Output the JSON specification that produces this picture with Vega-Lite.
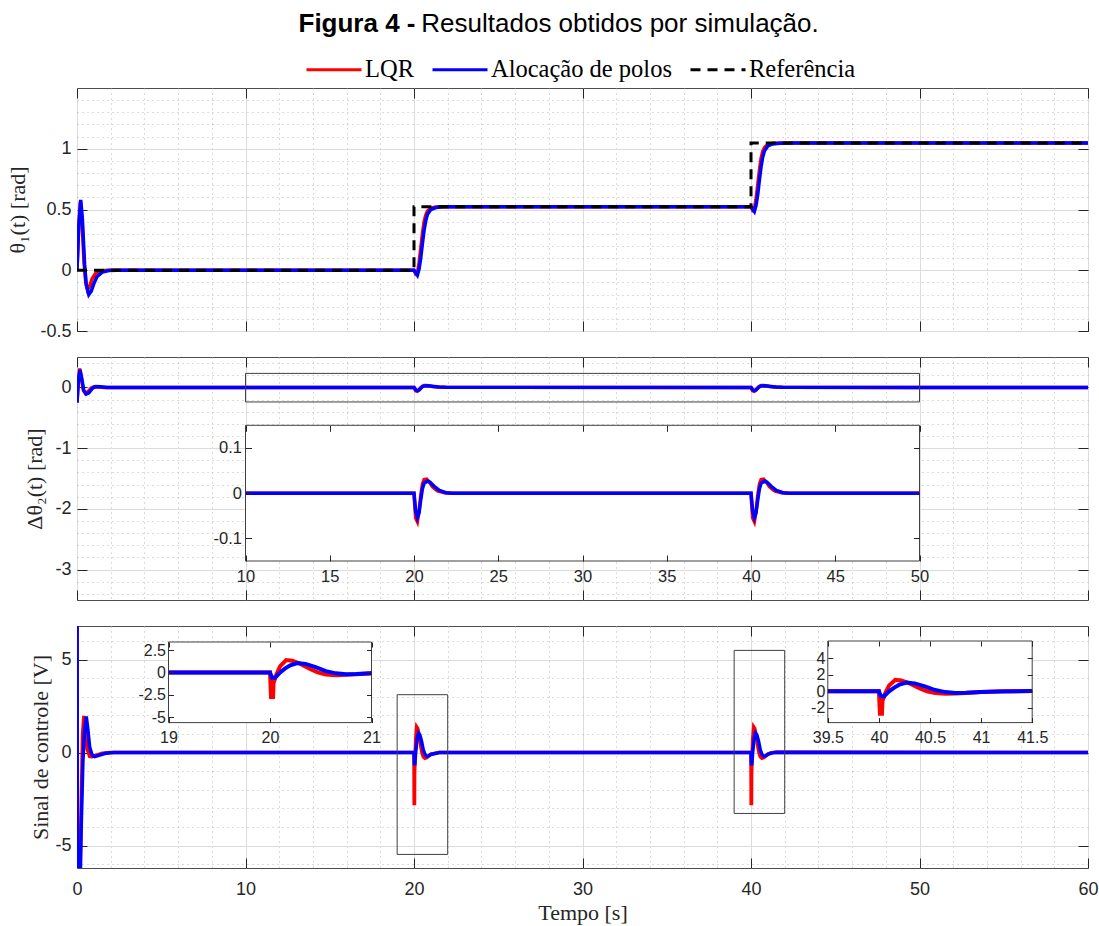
{
 "$schema": "https://vega.github.io/schema/vega-lite/v6.json",
 "background": "white",
 "padding": {"left": 6, "top": 10, "right": 5, "bottom": 5},
 "title": {"text": "Figura 4 -", "subtitle": "\u200b\u00a0\u00a0\u00a0\u00a0\u00a0\u00a0\u00a0\u00a0\u00a0\u00a0\u00a0\u00a0\u00a0\u00a0\u00a0\u00a0\u00a0Resultados obtidos por simulação.", "anchor": "middle", "align": "left", "dx": -254, "font": "Liberation Sans", "fontSize": 26, "fontWeight": "bold", "color": "#000000", "subtitleFont": "Liberation Sans", "subtitleFontSize": 26, "subtitleFontWeight": "normal", "subtitleColor": "#000000", "subtitlePadding": -26},
 "datasets": {
  "th1": [
   {"t":0,"v":0,"s":"LQR"},{"t":0.1,"v":0.36,"s":"LQR"},{"t":0.2,"v":0.56,"s":"LQR"},{"t":0.3,"v":0.4,"s":"LQR"},{"t":0.42,"v":0.06,"s":"LQR"},{"t":0.52,"v":-0.1,"s":"LQR"},{"t":0.62,"v":-0.16,"s":"LQR"},{"t":0.75,"v":-0.13,"s":"LQR"},{"t":0.9,"v":-0.07,"s":"LQR"},{"t":1.1,"v":-0.025,"s":"LQR"},{"t":1.4,"v":-0.005,"s":"LQR"},{"t":1.8,"v":0,"s":"LQR"},{"t":20,"v":0,"s":"LQR"},{"t":20.1,"v":-0.03,"s":"LQR"},{"t":20.2,"v":-0.02,"s":"LQR"},{"t":20.3,"v":0.06,"s":"LQR"},{"t":20.4,"v":0.18,"s":"LQR"},{"t":20.5,"v":0.3,"s":"LQR"},{"t":20.6,"v":0.4,"s":"LQR"},{"t":20.7,"v":0.455,"s":"LQR"},{"t":20.8,"v":0.487,"s":"LQR"},{"t":21,"v":0.512,"s":"LQR"},{"t":21.3,"v":0.521,"s":"LQR"},{"t":22,"v":0.5236,"s":"LQR"},{"t":40,"v":0.5236,"s":"LQR"},{"t":40.1,"v":0.4936,"s":"LQR"},{"t":40.2,"v":0.5036,"s":"LQR"},{"t":40.3,"v":0.5836,"s":"LQR"},{"t":40.4,"v":0.7036,"s":"LQR"},{"t":40.5,"v":0.8236,"s":"LQR"},{"t":40.6,"v":0.9236,"s":"LQR"},{"t":40.7,"v":0.9786,"s":"LQR"},{"t":40.8,"v":1.0106,"s":"LQR"},{"t":41,"v":1.0356,"s":"LQR"},{"t":41.3,"v":1.0446,"s":"LQR"},{"t":42,"v":1.0472,"s":"LQR"},{"t":60,"v":1.0472,"s":"LQR"},
   {"t":0,"v":0,"s":"Alocação de polos"},{"t":0.1,"v":0.35,"s":"Alocação de polos"},{"t":0.22,"v":0.58,"s":"Alocação de polos"},{"t":0.32,"v":0.42,"s":"Alocação de polos"},{"t":0.45,"v":0.05,"s":"Alocação de polos"},{"t":0.55,"v":-0.12,"s":"Alocação de polos"},{"t":0.7,"v":-0.2,"s":"Alocação de polos"},{"t":0.85,"v":-0.17,"s":"Alocação de polos"},{"t":1,"v":-0.11,"s":"Alocação de polos"},{"t":1.2,"v":-0.05,"s":"Alocação de polos"},{"t":1.5,"v":-0.015,"s":"Alocação de polos"},{"t":1.9,"v":-0.002,"s":"Alocação de polos"},{"t":2.4,"v":0,"s":"Alocação de polos"},{"t":20,"v":0,"s":"Alocação de polos"},{"t":20.1,"v":-0.02,"s":"Alocação de polos"},{"t":20.2,"v":-0.04,"s":"Alocação de polos"},{"t":20.3,"v":0.01,"s":"Alocação de polos"},{"t":20.4,"v":0.1,"s":"Alocação de polos"},{"t":20.5,"v":0.22,"s":"Alocação de polos"},{"t":20.6,"v":0.33,"s":"Alocação de polos"},{"t":20.7,"v":0.41,"s":"Alocação de polos"},{"t":20.8,"v":0.46,"s":"Alocação de polos"},{"t":21,"v":0.5,"s":"Alocação de polos"},{"t":21.3,"v":0.516,"s":"Alocação de polos"},{"t":21.7,"v":0.522,"s":"Alocação de polos"},{"t":22.5,"v":0.5236,"s":"Alocação de polos"},{"t":40,"v":0.5236,"s":"Alocação de polos"},{"t":40.1,"v":0.5036,"s":"Alocação de polos"},{"t":40.2,"v":0.4836,"s":"Alocação de polos"},{"t":40.3,"v":0.5336,"s":"Alocação de polos"},{"t":40.4,"v":0.6236,"s":"Alocação de polos"},{"t":40.5,"v":0.7436,"s":"Alocação de polos"},{"t":40.6,"v":0.8536,"s":"Alocação de polos"},{"t":40.7,"v":0.9336,"s":"Alocação de polos"},{"t":40.8,"v":0.9836,"s":"Alocação de polos"},{"t":41,"v":1.0236,"s":"Alocação de polos"},{"t":41.3,"v":1.0396,"s":"Alocação de polos"},{"t":41.7,"v":1.0456,"s":"Alocação de polos"},{"t":42.5,"v":1.0472,"s":"Alocação de polos"},{"t":60,"v":1.0472,"s":"Alocação de polos"}
  ],
  "ref": [
   {"i":1,"t":0,"v":0,"s":"Referência"},{"i":2,"t":20,"v":0,"s":"Referência"},{"i":3,"t":20,"v":0.5236,"s":"Referência"},{"i":4,"t":40,"v":0.5236,"s":"Referência"},{"i":5,"t":40,"v":1.0472,"s":"Referência"},{"i":6,"t":60,"v":1.0472,"s":"Referência"}
  ],
  "th2": [
   {"t":0,"v":-0.25,"s":"LQR"},{"t":0.08,"v":0.12,"s":"LQR"},{"t":0.16,"v":0.31,"s":"LQR"},{"t":0.26,"v":0.15,"s":"LQR"},{"t":0.38,"v":-0.05,"s":"LQR"},{"t":0.5,"v":-0.1,"s":"LQR"},{"t":0.65,"v":-0.07,"s":"LQR"},{"t":0.85,"v":-0.01,"s":"LQR"},{"t":1,"v":0.01,"s":"LQR"},{"t":1.3,"v":0.005,"s":"LQR"},{"t":1.6,"v":0,"s":"LQR"},{"t":10,"v":0,"s":"LQR"},{"t":20,"v":0,"s":"LQR"},{"t":20.05,"v":-0.03,"s":"LQR"},{"t":20.1,"v":-0.055,"s":"LQR"},{"t":20.2,"v":-0.063,"s":"LQR"},{"t":20.3,"v":-0.04,"s":"LQR"},{"t":20.4,"v":-0.005,"s":"LQR"},{"t":20.5,"v":0.02,"s":"LQR"},{"t":20.6,"v":0.03,"s":"LQR"},{"t":20.75,"v":0.031,"s":"LQR"},{"t":20.9,"v":0.025,"s":"LQR"},{"t":21.1,"v":0.014,"s":"LQR"},{"t":21.4,"v":0.005,"s":"LQR"},{"t":21.8,"v":0.001,"s":"LQR"},{"t":22.2,"v":0,"s":"LQR"},{"t":40,"v":0,"s":"LQR"},{"t":40.05,"v":-0.03,"s":"LQR"},{"t":40.1,"v":-0.055,"s":"LQR"},{"t":40.2,"v":-0.063,"s":"LQR"},{"t":40.3,"v":-0.04,"s":"LQR"},{"t":40.4,"v":-0.005,"s":"LQR"},{"t":40.5,"v":0.02,"s":"LQR"},{"t":40.6,"v":0.03,"s":"LQR"},{"t":40.75,"v":0.031,"s":"LQR"},{"t":40.9,"v":0.025,"s":"LQR"},{"t":41.1,"v":0.014,"s":"LQR"},{"t":41.4,"v":0.005,"s":"LQR"},{"t":41.8,"v":0.001,"s":"LQR"},{"t":42.2,"v":0,"s":"LQR"},{"t":50,"v":0,"s":"LQR"},{"t":60,"v":0,"s":"LQR"},
   {"t":0,"v":-0.25,"s":"Alocação de polos"},{"t":0.08,"v":0.1,"s":"Alocação de polos"},{"t":0.18,"v":0.29,"s":"Alocação de polos"},{"t":0.28,"v":0.15,"s":"Alocação de polos"},{"t":0.4,"v":-0.05,"s":"Alocação de polos"},{"t":0.55,"v":-0.11,"s":"Alocação de polos"},{"t":0.7,"v":-0.09,"s":"Alocação de polos"},{"t":0.9,"v":-0.02,"s":"Alocação de polos"},{"t":1.1,"v":0.015,"s":"Alocação de polos"},{"t":1.4,"v":0.01,"s":"Alocação de polos"},{"t":1.8,"v":0,"s":"Alocação de polos"},{"t":10,"v":0,"s":"Alocação de polos"},{"t":20,"v":0,"s":"Alocação de polos"},{"t":20.05,"v":-0.02,"s":"Alocação de polos"},{"t":20.1,"v":-0.04,"s":"Alocação de polos"},{"t":20.2,"v":-0.054,"s":"Alocação de polos"},{"t":20.3,"v":-0.043,"s":"Alocação de polos"},{"t":20.4,"v":-0.015,"s":"Alocação de polos"},{"t":20.5,"v":0.01,"s":"Alocação de polos"},{"t":20.6,"v":0.022,"s":"Alocação de polos"},{"t":20.8,"v":0.027,"s":"Alocação de polos"},{"t":20.95,"v":0.024,"s":"Alocação de polos"},{"t":21.2,"v":0.015,"s":"Alocação de polos"},{"t":21.5,"v":0.006,"s":"Alocação de polos"},{"t":21.9,"v":0.001,"s":"Alocação de polos"},{"t":22.3,"v":0,"s":"Alocação de polos"},{"t":40,"v":0,"s":"Alocação de polos"},{"t":40.05,"v":-0.02,"s":"Alocação de polos"},{"t":40.1,"v":-0.04,"s":"Alocação de polos"},{"t":40.2,"v":-0.054,"s":"Alocação de polos"},{"t":40.3,"v":-0.043,"s":"Alocação de polos"},{"t":40.4,"v":-0.015,"s":"Alocação de polos"},{"t":40.5,"v":0.01,"s":"Alocação de polos"},{"t":40.6,"v":0.022,"s":"Alocação de polos"},{"t":40.8,"v":0.027,"s":"Alocação de polos"},{"t":40.95,"v":0.024,"s":"Alocação de polos"},{"t":41.2,"v":0.015,"s":"Alocação de polos"},{"t":41.5,"v":0.006,"s":"Alocação de polos"},{"t":41.9,"v":0.001,"s":"Alocação de polos"},{"t":42.3,"v":0,"s":"Alocação de polos"},{"t":50,"v":0,"s":"Alocação de polos"},{"t":60,"v":0,"s":"Alocação de polos"}
  ],
  "u": [
   {"t":0,"v":15,"s":"LQR"},{"t":0.03,"v":-10,"s":"LQR"},{"t":0.15,"v":-8,"s":"LQR"},{"t":0.25,"v":-3,"s":"LQR"},{"t":0.33,"v":1,"s":"LQR"},{"t":0.41,"v":1.97,"s":"LQR"},{"t":0.5,"v":1.2,"s":"LQR"},{"t":0.6,"v":0.2,"s":"LQR"},{"t":0.75,"v":-0.2,"s":"LQR"},{"t":0.9,"v":-0.22,"s":"LQR"},{"t":1.1,"v":-0.15,"s":"LQR"},{"t":1.5,"v":-0.04,"s":"LQR"},{"t":2,"v":0,"s":"LQR"},{"t":19,"v":0,"s":"LQR"},{"t":20,"v":0,"s":"LQR"},{"t":20.01,"v":-2.73,"s":"LQR"},{"t":20.03,"v":-2.73,"s":"LQR"},{"t":20.035,"v":-1.2,"s":"LQR"},{"t":20.06,"v":-0.3,"s":"LQR"},{"t":20.1,"v":0.7,"s":"LQR"},{"t":20.16,"v":1.38,"s":"LQR"},{"t":20.22,"v":1.3,"s":"LQR"},{"t":20.3,"v":0.95,"s":"LQR"},{"t":20.4,"v":0.35,"s":"LQR"},{"t":20.47,"v":0,"s":"LQR"},{"t":20.55,"v":-0.22,"s":"LQR"},{"t":20.65,"v":-0.3,"s":"LQR"},{"t":20.75,"v":-0.27,"s":"LQR"},{"t":20.85,"v":-0.2,"s":"LQR"},{"t":21,"v":-0.08,"s":"LQR"},{"t":21.5,"v":0,"s":"LQR"},{"t":39.5,"v":0,"s":"LQR"},{"t":40,"v":0,"s":"LQR"},{"t":40.01,"v":-2.73,"s":"LQR"},{"t":40.03,"v":-2.73,"s":"LQR"},{"t":40.035,"v":-1.2,"s":"LQR"},{"t":40.06,"v":-0.3,"s":"LQR"},{"t":40.1,"v":0.7,"s":"LQR"},{"t":40.16,"v":1.38,"s":"LQR"},{"t":40.22,"v":1.3,"s":"LQR"},{"t":40.3,"v":0.95,"s":"LQR"},{"t":40.4,"v":0.35,"s":"LQR"},{"t":40.47,"v":0,"s":"LQR"},{"t":40.55,"v":-0.22,"s":"LQR"},{"t":40.65,"v":-0.3,"s":"LQR"},{"t":40.75,"v":-0.27,"s":"LQR"},{"t":40.85,"v":-0.2,"s":"LQR"},{"t":41,"v":-0.08,"s":"LQR"},{"t":41.2,"v":-0.01,"s":"LQR"},{"t":41.5,"v":0.02,"s":"LQR"},{"t":60,"v":0,"s":"LQR"},
   {"t":0,"v":20,"s":"Alocação de polos"},{"t":0.02,"v":-15,"s":"Alocação de polos"},{"t":0.15,"v":-9,"s":"Alocação de polos"},{"t":0.25,"v":-4,"s":"Alocação de polos"},{"t":0.35,"v":-0.5,"s":"Alocação de polos"},{"t":0.45,"v":1.2,"s":"Alocação de polos"},{"t":0.55,"v":1.94,"s":"Alocação de polos"},{"t":0.65,"v":1.2,"s":"Alocação de polos"},{"t":0.75,"v":0.3,"s":"Alocação de polos"},{"t":0.9,"v":-0.15,"s":"Alocação de polos"},{"t":1.05,"v":-0.22,"s":"Alocação de polos"},{"t":1.3,"v":-0.15,"s":"Alocação de polos"},{"t":1.7,"v":-0.04,"s":"Alocação de polos"},{"t":2.2,"v":0,"s":"Alocação de polos"},{"t":19,"v":0,"s":"Alocação de polos"},{"t":20,"v":0,"s":"Alocação de polos"},{"t":20.02,"v":-0.6,"s":"Alocação de polos"},{"t":20.05,"v":-0.6,"s":"Alocação de polos"},{"t":20.1,"v":0,"s":"Alocação de polos"},{"t":20.15,"v":0.45,"s":"Alocação de polos"},{"t":20.2,"v":0.8,"s":"Alocação de polos"},{"t":20.27,"v":1.05,"s":"Alocação de polos"},{"t":20.35,"v":0.95,"s":"Alocação de polos"},{"t":20.45,"v":0.6,"s":"Alocação de polos"},{"t":20.55,"v":0.15,"s":"Alocação de polos"},{"t":20.65,"v":-0.1,"s":"Alocação de polos"},{"t":20.75,"v":-0.2,"s":"Alocação de polos"},{"t":20.85,"v":-0.18,"s":"Alocação de polos"},{"t":21,"v":-0.1,"s":"Alocação de polos"},{"t":21.5,"v":0,"s":"Alocação de polos"},{"t":39.5,"v":0,"s":"Alocação de polos"},{"t":40,"v":0,"s":"Alocação de polos"},{"t":40.02,"v":-0.6,"s":"Alocação de polos"},{"t":40.05,"v":-0.6,"s":"Alocação de polos"},{"t":40.1,"v":0,"s":"Alocação de polos"},{"t":40.15,"v":0.45,"s":"Alocação de polos"},{"t":40.2,"v":0.8,"s":"Alocação de polos"},{"t":40.27,"v":1.05,"s":"Alocação de polos"},{"t":40.35,"v":0.95,"s":"Alocação de polos"},{"t":40.45,"v":0.6,"s":"Alocação de polos"},{"t":40.55,"v":0.15,"s":"Alocação de polos"},{"t":40.65,"v":-0.1,"s":"Alocação de polos"},{"t":40.75,"v":-0.2,"s":"Alocação de polos"},{"t":40.85,"v":-0.18,"s":"Alocação de polos"},{"t":41,"v":-0.1,"s":"Alocação de polos"},{"t":41.2,"v":-0.03,"s":"Alocação de polos"},{"t":41.5,"v":0.02,"s":"Alocação de polos"},{"t":60,"v":0,"s":"Alocação de polos"}
  ],
  "box2": [{"x1":10,"x2":50,"y1":-0.24,"y2":0.23}],
  "box3": [{"x1":19,"x2":22,"y1":-5.47,"y2":3.11},{"x1":39,"x2":42,"y1":-3.27,"y2":5.49}]
 },
 "spacing": 26,
 "bounds": "flush",
 "vconcat": [
  {
   "width": 1011, "height": 243,
   "layer": [
    {"data": {"name": "th1"}, "transform": [{"filter": "datum.s === 'LQR'"}],
     "mark": {"type": "line", "strokeWidth": 3.5, "clip": true},
     "encoding": {
      "x": {"field": "t", "type": "quantitative", "scale": {"domain": [0, 60], "nice": false, "zero": false},
            "axis": {"orient": "bottom", "values": [0,2,4,6,8,10,12,14,16,18,20,22,24,26,28,30,32,34,36,38,40,42,44,46,48,50,52,54,56,58,60], "grid": true,
                     "gridColor": {"condition": {"test": "datum.value % 10 === 0", "value": "#dcdcdc"}, "value": "#b8b8b8"},
                     "gridDash": {"condition": {"test": "datum.value % 10 === 0", "value": []}, "value": [1, 4]},
                     "tickSize": -10, "tickOpacity": {"condition": {"test": "datum.value % 10 === 0", "value": 1}, "value": 0},
                     "labels": false, "title": null, "domain": false}},
      "y": {"field": "v", "type": "quantitative", "scale": {"domain": [-0.5, 1.5], "nice": false, "zero": false},
            "axis": {"orient": "left", "values": [-0.5,-0.4,-0.3,-0.2,-0.1,0,0.1,0.2,0.3,0.4,0.5,0.6,0.7,0.8,0.9,1,1.1,1.2,1.3,1.4], "grid": true,
                     "gridColor": {"condition": {"test": "abs(round(datum.value*10)) % 5 === 0", "value": "#dcdcdc"}, "value": "#b8b8b8"},
                     "gridDash": {"condition": {"test": "abs(round(datum.value*10)) % 5 === 0", "value": []}, "value": [1, 4]},
                     "tickSize": -10, "tickOpacity": {"condition": {"test": "abs(round(datum.value*10)) % 5 === 0", "value": 1}, "value": 0},
                     "labelExpr": "abs(round(datum.value*10)) % 5 === 0 ? toString(datum.value) : ''", "labelPadding": 16, "labelOverlap": false, "labelFlush": false,
                     "title": "θ₁(t) [rad]", "titlePadding": 10, "domain": false}},
      "color": {"field": "s", "type": "nominal", "scale": {"domain": ["LQR", "Alocação de polos", "Referência"], "range": ["#ff0000", "#0000ff", "#000000"]},
                "legend": {"title": null, "orient": "none", "legendX": 228, "legendY": -47.5, "direction": "horizontal"}}
     }},
    {"data": {"name": "th1"}, "transform": [{"filter": "datum.s !== 'LQR'"}],
     "mark": {"type": "line", "strokeWidth": 3.5, "clip": true},
     "encoding": {
      "x": {"field": "t", "type": "quantitative", "axis": {"orient": "top", "values": [0,10,20,30,40,50,60], "grid": false, "tickSize": -10, "labels": false, "title": null, "domain": false}},
      "y": {"field": "v", "type": "quantitative", "axis": {"orient": "right", "values": [-0.5,0,0.5,1], "grid": false, "tickSize": -10, "labels": false, "title": null, "domain": false}},
      "color": {"field": "s", "type": "nominal"}
     }},
    {"data": {"name": "ref"},
     "mark": {"type": "line", "strokeWidth": 3, "clip": true},
     "encoding": {
      "x": {"field": "t", "type": "quantitative", "axis": null},
      "y": {"field": "v", "type": "quantitative", "axis": null},
      "order": {"field": "i", "type": "quantitative"},
      "color": {"field": "s", "type": "nominal"},
      "strokeDash": {"field": "s", "type": "nominal", "scale": {"domain": ["LQR", "Alocação de polos", "Referência"], "range": [[1, 0], [1, 0], [10, 7]]},
                     "legend": {"title": null, "orient": "none", "legendX": 228, "legendY": -47.5, "direction": "horizontal"}}
     }}
   ],
   "resolve": {"axis": {"x": "independent", "y": "independent"}}
  },
  {
   "width": 1011, "height": 243,
   "layer": [
    {"layer": [
      {"data": {"name": "th2"}, "transform": [{"filter": "datum.s === 'LQR'"}],
       "mark": {"type": "line", "strokeWidth": 3.5, "clip": true},
       "encoding": {
        "x": {"field": "t", "type": "quantitative", "scale": {"domain": [0, 60], "nice": false, "zero": false},
              "axis": {"orient": "bottom", "values": [0,2,4,6,8,10,12,14,16,18,20,22,24,26,28,30,32,34,36,38,40,42,44,46,48,50,52,54,56,58,60], "grid": true,
                       "gridColor": {"condition": {"test": "datum.value % 10 === 0", "value": "#dcdcdc"}, "value": "#b8b8b8"},
                       "gridDash": {"condition": {"test": "datum.value % 10 === 0", "value": []}, "value": [1, 4]},
                       "tickSize": -10, "tickOpacity": {"condition": {"test": "datum.value % 10 === 0", "value": 1}, "value": 0},
                       "labels": false, "title": null, "domain": false}},
        "y": {"field": "v", "type": "quantitative", "scale": {"domain": [-3.5, 0.5], "nice": false, "zero": false},
              "axis": {"orient": "left", "values": [-3.4,-3.2,-3,-2.8,-2.6,-2.4,-2.2,-2,-1.8,-1.6,-1.4,-1.2,-1,-0.8,-0.6,-0.4,-0.2,0,0.2,0.4], "grid": true,
                       "gridColor": {"condition": {"test": "abs(round(datum.value*10)) % 10 === 0", "value": "#dcdcdc"}, "value": "#b8b8b8"},
                       "gridDash": {"condition": {"test": "abs(round(datum.value*10)) % 10 === 0", "value": []}, "value": [1, 4]},
                       "tickSize": -10, "tickOpacity": {"condition": {"test": "abs(round(datum.value*10)) % 10 === 0", "value": 1}, "value": 0},
                       "labelExpr": "abs(round(datum.value*10)) % 10 === 0 ? toString(datum.value) : ''", "labelPadding": 16, "labelOverlap": false, "labelFlush": false,
                       "title": "Δθ₂(t) [rad]", "titlePadding": 8, "domain": false}},
        "color": {"field": "s", "type": "nominal"}
       }},
      {"data": {"name": "th2"}, "transform": [{"filter": "datum.s !== 'LQR'"}],
       "mark": {"type": "line", "strokeWidth": 3.5, "clip": true},
       "encoding": {
        "x": {"field": "t", "type": "quantitative", "axis": {"orient": "top", "values": [0,10,20,30,40,50,60], "grid": false, "tickSize": -10, "labels": false, "title": null, "domain": false}},
        "y": {"field": "v", "type": "quantitative", "axis": {"orient": "right", "values": [-3,-2,-1,0], "grid": false, "tickSize": -10, "labels": false, "title": null, "domain": false}},
        "color": {"field": "s", "type": "nominal"}
       }},
      {"data": {"name": "box2"},
       "mark": {"type": "rect", "filled": false, "stroke": "#404040", "strokeWidth": 1},
       "encoding": {
        "x": {"field": "x1", "type": "quantitative", "axis": null}, "x2": {"field": "x2"},
        "y": {"field": "y1", "type": "quantitative", "axis": null}, "y2": {"field": "y2"}
       }}
     ],
     "resolve": {"axis": {"x": "independent", "y": "independent"}}},
    {"layer": [
      {"data": {"values": [{}]},
       "mark": {"type": "rect", "fill": "white", "stroke": "#404040", "strokeWidth": 1},
       "encoding": {
        "x": {"datum": 10, "type": "quantitative", "scale": {"domain": [10, 50], "range": [168.5, 842.5], "nice": false, "zero": false},
              "axis": {"orient": "bottom", "offset": -39, "values": [10,15,20,25,30,35,40,45,50], "tickSize": -6, "labelPadding": 13, "labelFontSize": 16.5, "labelExpr": "toString(datum.value)", "labelFlush": false, "labelOverlap": false, "grid": false, "domain": false, "title": null, "zindex": 1}},
        "x2": {"datum": 50},
        "y": {"datum": -0.15, "type": "quantitative", "scale": {"domain": [-0.15, 0.15], "range": [204, 68.3], "nice": false, "zero": false},
              "axis": {"orient": "left", "offset": -168.5, "values": [-0.1, 0, 0.1], "tickSize": -6, "labelPadding": 10, "labelFontSize": 16.5, "labelExpr": "toString(datum.value)", "labelFlush": false, "labelOverlap": false, "grid": false, "domain": false, "title": null, "zindex": 1}},
        "y2": {"datum": 0.15}
       }},
      {"data": {"name": "th2"}, "transform": [{"filter": "datum.s === 'LQR' && datum.t >= 10 && datum.t <= 50"}],
       "mark": {"type": "line", "strokeWidth": 3.5},
       "encoding": {
        "x": {"field": "t", "type": "quantitative", "axis": null},
        "y": {"field": "v", "type": "quantitative", "axis": null},
        "color": {"field": "s", "type": "nominal"}
       }},
      {"data": {"name": "th2"}, "transform": [{"filter": "datum.s !== 'LQR' && datum.t >= 10 && datum.t <= 50"}],
       "mark": {"type": "line", "strokeWidth": 3.5},
       "encoding": {
        "x": {"field": "t", "type": "quantitative", "axis": {"orient": "top", "offset": -68.3, "values": [10,15,20,25,30,35,40,45,50], "tickSize": -6, "labels": false, "grid": false, "domain": false, "title": null, "zindex": 1}},
        "y": {"field": "v", "type": "quantitative", "axis": {"orient": "right", "offset": -168.5, "values": [-0.1, 0, 0.1], "tickSize": -6, "labels": false, "grid": false, "domain": false, "title": null, "zindex": 1}},
        "color": {"field": "s", "type": "nominal"}
       }}
     ],
     "resolve": {"axis": {"x": "independent", "y": "independent"}}}
   ],
   "resolve": {"scale": {"x": "independent", "y": "independent"}, "axis": {"x": "independent", "y": "independent"}}
  },
  {
   "width": 1011, "height": 242,
   "layer": [
    {"layer": [
      {"data": {"name": "u"}, "transform": [{"filter": "datum.s === 'LQR'"}],
       "mark": {"type": "line", "strokeWidth": 3.5, "clip": true},
       "encoding": {
        "x": {"field": "t", "type": "quantitative", "scale": {"domain": [0, 60], "nice": false, "zero": false},
              "axis": {"orient": "bottom", "values": [0,2,4,6,8,10,12,14,16,18,20,22,24,26,28,30,32,34,36,38,40,42,44,46,48,50,52,54,56,58,60], "grid": true,
                       "gridColor": {"condition": {"test": "datum.value % 10 === 0", "value": "#dcdcdc"}, "value": "#b8b8b8"},
                       "gridDash": {"condition": {"test": "datum.value % 10 === 0", "value": []}, "value": [1, 4]},
                       "tickSize": -10, "tickOpacity": {"condition": {"test": "datum.value % 10 === 0", "value": 1}, "value": 0},
                       "labelExpr": "datum.value % 10 === 0 ? toString(datum.value) : ''", "labelPadding": 22, "labelFlush": false, "labelOverlap": false,
                       "title": "Tempo [s]", "titlePadding": 4, "domain": false}},
        "y": {"field": "v", "type": "quantitative", "scale": {"domain": [-6.2, 6.8], "nice": false, "zero": false},
              "axis": {"orient": "left", "values": [-6,-5,-4,-3,-2,-1,0,1,2,3,4,5,6], "grid": true,
                       "gridColor": {"condition": {"test": "abs(datum.value) % 5 === 0", "value": "#dcdcdc"}, "value": "#b8b8b8"},
                       "gridDash": {"condition": {"test": "abs(datum.value) % 5 === 0", "value": []}, "value": [1, 4]},
                       "tickSize": -10, "tickOpacity": {"condition": {"test": "abs(datum.value) % 5 === 0", "value": 1}, "value": 0},
                       "labelExpr": "abs(datum.value) % 5 === 0 ? toString(datum.value) : ''", "labelPadding": 16, "labelOverlap": false, "labelFlush": false,
                       "title": "Sinal de controle [V]", "titlePadding": 2, "domain": false}},
        "color": {"field": "s", "type": "nominal"}
       }},
      {"data": {"name": "u"}, "transform": [{"filter": "datum.s !== 'LQR'"}],
       "mark": {"type": "line", "strokeWidth": 3.5, "clip": true},
       "encoding": {
        "x": {"field": "t", "type": "quantitative", "axis": {"orient": "top", "values": [0,10,20,30,40,50,60], "grid": false, "tickSize": -10, "labels": false, "title": null, "domain": false}},
        "y": {"field": "v", "type": "quantitative", "axis": {"orient": "right", "values": [-5,0,5], "grid": false, "tickSize": -10, "labels": false, "title": null, "domain": false}},
        "color": {"field": "s", "type": "nominal"}
       }},
      {"data": {"name": "box3"},
       "mark": {"type": "rect", "filled": false, "stroke": "#404040", "strokeWidth": 1},
       "encoding": {
        "x": {"field": "x1", "type": "quantitative", "axis": null}, "x2": {"field": "x2"},
        "y": {"field": "y1", "type": "quantitative", "axis": null}, "y2": {"field": "y2"}
       }}
     ],
     "resolve": {"axis": {"x": "independent", "y": "independent"}}},
    {"layer": [
      {"data": {"values": [{}]},
       "mark": {"type": "rect", "fill": "white", "stroke": "#404040", "strokeWidth": 1},
       "encoding": {
        "x": {"datum": 19, "type": "quantitative", "scale": {"domain": [19, 21], "range": [91.5, 294.5], "nice": false, "zero": false},
              "axis": {"orient": "bottom", "offset": -145.4, "values": [19, 20, 21], "tickSize": -5, "labelPadding": 12, "labelFontSize": 16, "labelExpr": "toString(datum.value)", "labelFlush": false, "labelOverlap": false, "grid": false, "domain": false, "title": null, "zindex": 1}},
        "x2": {"datum": 21},
        "y": {"datum": -5.6, "type": "quantitative", "scale": {"domain": [-5.6, 3.4], "range": [96.6, 16], "nice": false, "zero": false},
              "axis": {"orient": "left", "offset": -91.5, "values": [-5, -2.5, 0, 2.5], "tickSize": -5, "labelPadding": 8, "labelFontSize": 16, "labelExpr": "toString(datum.value)", "labelFlush": false, "labelOverlap": false, "grid": false, "domain": false, "title": null, "zindex": 1}},
        "y2": {"datum": 3.4}
       }},
      {"data": {"name": "u"}, "transform": [{"filter": "datum.s === 'LQR' && datum.t >= 19 && datum.t <= 21"}],
       "mark": {"type": "line", "strokeWidth": 4},
       "encoding": {
        "x": {"field": "t", "type": "quantitative", "axis": null},
        "y": {"field": "v", "type": "quantitative", "axis": null},
        "color": {"field": "s", "type": "nominal"}
       }},
      {"data": {"name": "u"}, "transform": [{"filter": "datum.s !== 'LQR' && datum.t >= 19 && datum.t <= 21"}],
       "mark": {"type": "line", "strokeWidth": 4},
       "encoding": {
        "x": {"field": "t", "type": "quantitative", "axis": {"orient": "top", "offset": -16, "values": [19, 20, 21], "tickSize": -5, "labels": false, "grid": false, "domain": false, "title": null, "zindex": 1}},
        "y": {"field": "v", "type": "quantitative", "axis": {"orient": "right", "offset": -716.5, "values": [-5, -2.5, 0, 2.5], "tickSize": -5, "labels": false, "grid": false, "domain": false, "title": null, "zindex": 1}},
        "color": {"field": "s", "type": "nominal"}
       }}
     ],
     "resolve": {"axis": {"x": "independent", "y": "independent"}}},
    {"layer": [
      {"data": {"values": [{}]},
       "mark": {"type": "rect", "fill": "white", "stroke": "#404040", "strokeWidth": 1},
       "encoding": {
        "x": {"datum": 39.5, "type": "quantitative", "scale": {"domain": [39.5, 41.5], "range": [750.8, 955.2], "nice": false, "zero": false},
              "axis": {"orient": "bottom", "offset": -145.4, "values": [39.5, 40, 40.5, 41, 41.5], "tickSize": -5, "labelPadding": 12, "labelFontSize": 16, "labelExpr": "toString(datum.value)", "labelFlush": false, "labelOverlap": false, "grid": false, "domain": false, "title": null, "zindex": 1}},
        "x2": {"datum": 41.5},
        "y": {"datum": -3.8, "type": "quantitative", "scale": {"domain": [-3.8, 6.1], "range": [96.6, 15], "nice": false, "zero": false},
              "axis": {"orient": "left", "offset": -750.8, "values": [-2, 0, 2, 4], "tickSize": -5, "labelPadding": 8, "labelFontSize": 16, "labelExpr": "toString(datum.value)", "labelFlush": false, "labelOverlap": false, "grid": false, "domain": false, "title": null, "zindex": 1}},
        "y2": {"datum": 6.1}
       }},
      {"data": {"name": "u"}, "transform": [{"filter": "datum.s === 'LQR' && datum.t >= 39.5 && datum.t <= 41.5"}],
       "mark": {"type": "line", "strokeWidth": 4},
       "encoding": {
        "x": {"field": "t", "type": "quantitative", "axis": null},
        "y": {"field": "v", "type": "quantitative", "axis": null},
        "color": {"field": "s", "type": "nominal"}
       }},
      {"data": {"name": "u"}, "transform": [{"filter": "datum.s !== 'LQR' && datum.t >= 39.5 && datum.t <= 41.5"}],
       "mark": {"type": "line", "strokeWidth": 4},
       "encoding": {
        "x": {"field": "t", "type": "quantitative", "axis": {"orient": "top", "offset": -15, "values": [39.5, 40, 40.5, 41, 41.5], "tickSize": -5, "labels": false, "grid": false, "domain": false, "title": null, "zindex": 1}},
        "y": {"field": "v", "type": "quantitative", "axis": {"orient": "right", "offset": -55.8, "values": [-2, 0, 2, 4], "tickSize": -5, "labels": false, "grid": false, "domain": false, "title": null, "zindex": 1}},
        "color": {"field": "s", "type": "nominal"}
       }}
     ],
     "resolve": {"axis": {"x": "independent", "y": "independent"}}}
   ],
   "resolve": {"scale": {"x": "independent", "y": "independent"}, "axis": {"x": "independent", "y": "independent"}}
  }
 ],
 "resolve": {"scale": {"color": "shared", "strokeDash": "shared"}},
 "config": {
  "view": {"stroke": "#4d4d4d", "strokeWidth": 1},
  "axis": {"labelFont": "Liberation Sans", "labelFontSize": 18, "labelColor": "#262626", "titleFont": "Liberation Serif", "titleFontSize": 22, "titleFontWeight": "normal", "titleColor": "#262626", "tickColor": "#262626", "tickWidth": 1},
  "legend": {"symbolType": "stroke", "symbolSize": 3025, "symbolStrokeWidth": 3, "labelFont": "Liberation Serif", "labelFontSize": 24.5, "labelColor": "#000000", "columnPadding": 12, "labelOffset": 2, "padding": 0, "labelLimit": 400}
 }
}
